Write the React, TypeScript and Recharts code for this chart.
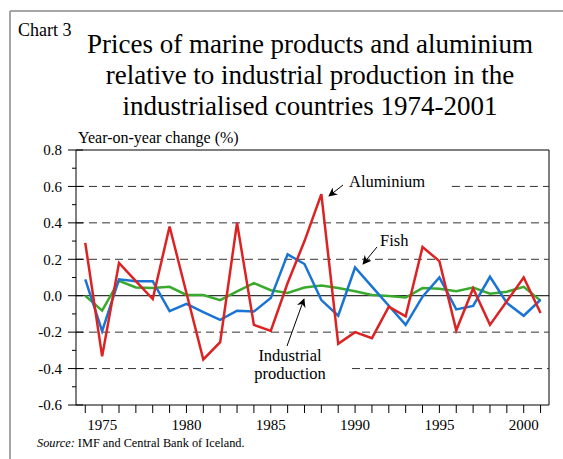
import React from 'react';
import { LineChart, Line, XAxis, YAxis, ReferenceLine } from 'recharts';

const years = [
  1974, 1975, 1976, 1977, 1978, 1979, 1980, 1981, 1982, 1983, 1984, 1985, 1986, 1987,
  1988, 1989, 1990, 1991, 1992, 1993, 1994, 1995, 1996, 1997, 1998, 1999, 2000, 2001,
];
const aluminium = [
  0.29, -0.333, 0.18, 0.08, -0.018, 0.38, 0.015, -0.35, -0.255, 0.4, -0.16, -0.193, 0.07, 0.3,
  0.558, -0.264, -0.2, -0.233, -0.06, -0.113, 0.267, 0.19, -0.19, 0.04, -0.16, -0.03, 0.1, -0.095,
];
const fish = [
  0.09, -0.195, 0.09, 0.08, 0.08, -0.085, -0.045, -0.09, -0.133, -0.082, -0.087, -0.013, 0.227, 0.174,
  -0.024, -0.11, 0.155, 0.05, -0.055, -0.16, -0.005, 0.1, -0.075, -0.056, 0.104, -0.04, -0.11, -0.022,
];
const industrial = [
  0.0, -0.082, 0.082, 0.045, 0.042, 0.049, 0.004, 0.004, -0.024, 0.024, 0.069, 0.03, 0.015, 0.045,
  0.056, 0.042, 0.024, 0.004, -0.002, -0.01, 0.042, 0.038, 0.024, 0.045, 0.011, 0.022, 0.049, -0.027,
];
const yTicks = [-0.6, -0.5, -0.4, -0.3, -0.2, -0.1, 0, 0.1, 0.2, 0.3, 0.4, 0.5, 0.6, 0.7, 0.8];
const titleLines = [
  'Prices of marine products and aluminium',
  'relative to industrial production in the',
  'industrialised countries 1974-2001',
];

const data = years.map((year, i) => ({
  year,
  aluminium: aluminium[i],
  fish: fish[i],
  industrial: industrial[i],
}));

const FONT = 'Liberation Serif, Times New Roman, Times, serif';
const X_MIN = 1973.45;
const X_MAX = 2001.5;

const dashed = { stroke: '#333', strokeWidth: 1, strokeDasharray: '8 5' };
const txt = { fontFamily: FONT };

// major ticks (every 0.2) cross the axis, minor ones sit outside only
const YTick = (props: any) => {
  const { x, y, payload } = props;
  const v = payload.value as number;
  const major = Math.round(v * 10) % 2 === 0;
  return (
    <g>
      <line x1={major ? x - 8 : x - 4} y1={y} x2={major ? x + 7 : x} y2={y} stroke="#000" strokeWidth={1} />
      {major && (
        <text x={x - 14} y={y} dy="0.35em" textAnchor="end" fontSize={15} fill="#000" style={txt}>
          {v.toFixed(1)}
        </text>
      )}
    </g>
  );
};

export default function App() {
  return (
    <div style={{ position: 'absolute', left: 0, top: 0, width: 563, height: 459, background: '#fff', fontFamily: FONT }}>
      <LineChart
        width={563}
        height={459}
        data={data}
        margin={{ top: 150, right: 14, bottom: 24, left: 0 }}
        style={txt}
      >
        <XAxis
          dataKey="year"
          type="number"
          domain={[X_MIN, X_MAX]}
          ticks={years}
          interval={0}
          tickFormatter={(v: number) => (v % 5 === 0 ? String(v) : '')}
          tick={{ fill: '#000', fontSize: 15, style: txt }}
          tickSize={8}
          tickMargin={6}
          height={30}
          stroke="#000"
          tickLine={{ stroke: '#000' }}
        />
        <YAxis
          type="number"
          domain={[-0.6, 0.8]}
          ticks={yTicks}
          interval={0}
          tick={<YTick />}
          tickSize={0}
          tickMargin={0}
          tickLine={false}
          width={76}
          stroke="#000"
        />
        <ReferenceLine y={0.8} stroke="#000" strokeWidth={1} />
        <ReferenceLine x={X_MAX} stroke="#000" strokeWidth={1} />
        <ReferenceLine segment={[{ x: X_MIN, y: 0.6 }, { x: 1987.33, y: 0.6 }]} {...dashed} />
        <ReferenceLine segment={[{ x: 1995.74, y: 0.6 }, { x: X_MAX, y: 0.6 }]} {...dashed} />
        <ReferenceLine y={0.4} {...dashed} />
        <ReferenceLine y={0.2} {...dashed} />
        <ReferenceLine y={-0.2} {...dashed} />
        <ReferenceLine segment={[{ x: X_MIN, y: -0.4 }, { x: 1982.18, y: -0.4 }]} {...dashed} />
        <ReferenceLine segment={[{ x: 1989.82, y: -0.4 }, { x: X_MAX, y: -0.4 }]} {...dashed} />
        <ReferenceLine y={0} stroke="#000" strokeWidth={1} />
        <Line dataKey="industrial" stroke="#3aaa2e" strokeWidth={2.5} dot={false} isAnimationActive={false} />
        <Line dataKey="fish" stroke="#1a74d4" strokeWidth={2.5} dot={false} isAnimationActive={false} />
        <Line dataKey="aluminium" stroke="#dc2222" strokeWidth={2.5} dot={false} isAnimationActive={false} />
      </LineChart>

      <svg width={563} height={459} style={{ position: 'absolute', left: 0, top: 0, pointerEvents: 'none', fontFamily: FONT }}>
        <defs>
          <marker id="arr" viewBox="0 0 10 10" refX="9" refY="5" markerWidth="9" markerHeight="9" orient="auto">
            <path d="M0,0 L10,5 L0,10 L3,5 z" fill="#000" />
          </marker>
        </defs>
        <line x1={10} y1={11} x2={563} y2={11} stroke="#888" strokeWidth={1.5} />
        <line x1={10} y1={11} x2={10} y2={459} stroke="#888" strokeWidth={1.5} />
        <text x={18} y={36} fontSize={18} style={txt}>Chart 3</text>
        {titleLines.map((t, i) => (
          <text key={i} x={310} y={53 + i * 31} fontSize={27} textAnchor="middle" style={txt}>
            {t}
          </text>
        ))}
        <text x={78} y={143} fontSize={16} style={txt}>Year-on-year change (%)</text>

        <text x={349} y={187} fontSize={16.5} style={txt}>Aluminium</text>
        <line x1={343} y1={185} x2={329} y2={196} stroke="#000" strokeWidth={1} markerEnd="url(#arr)" />
        <text x={380} y={246} fontSize={16.5} style={txt}>Fish</text>
        <line x1={377} y1={247} x2={363} y2={264} stroke="#000" strokeWidth={1} markerEnd="url(#arr)" />
        <text x={290} y={361} fontSize={16.5} textAnchor="middle" style={txt}>Industrial</text>
        <text x={290} y={379} fontSize={16.5} textAnchor="middle" style={txt}>production</text>
        <line x1={287} y1={346} x2={304} y2={299} stroke="#000" strokeWidth={1} markerEnd="url(#arr)" />

        <text x={37} y={447} fontSize={12.3} style={txt}>
          <tspan fontStyle="italic">Source:</tspan> IMF and Central Bank of Iceland.
        </text>
      </svg>
    </div>
  );
}
